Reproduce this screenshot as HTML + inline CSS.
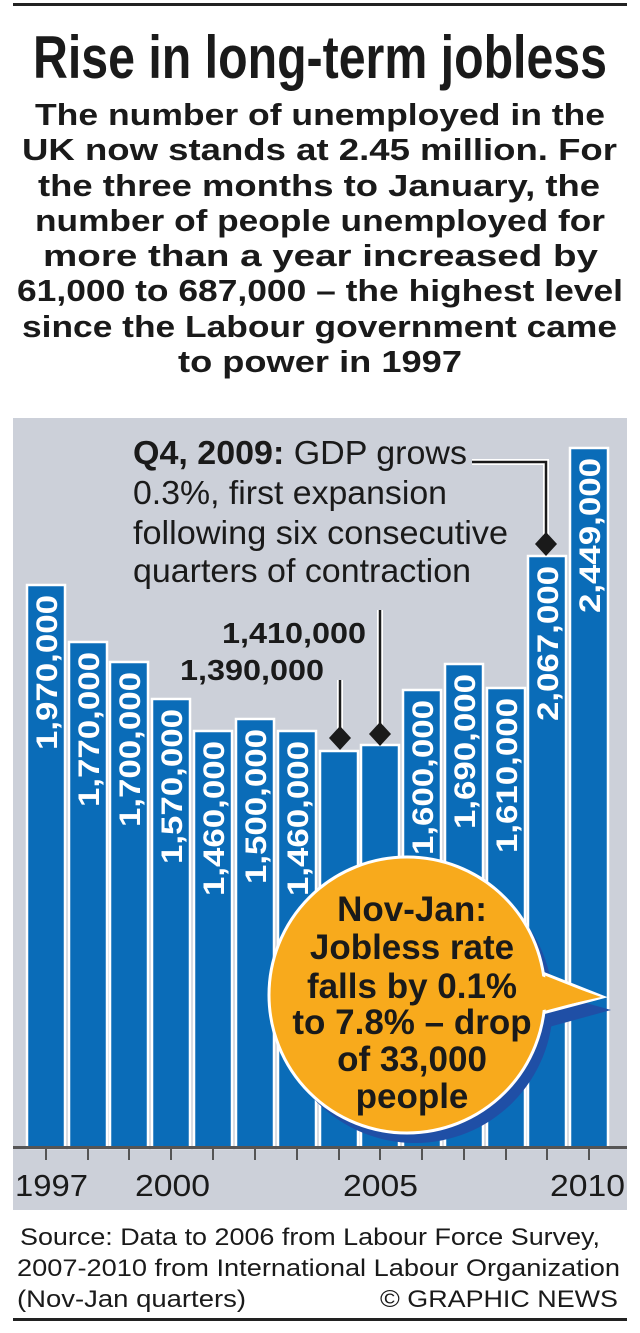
<!DOCTYPE html>
<html><head><style>
body{margin:0;background:#fff;width:640px;height:1333px;overflow:hidden}
svg{display:block}
</style></head><body>
<svg width="640" height="1333" xmlns="http://www.w3.org/2000/svg" font-family="Liberation Sans, sans-serif">
<rect x="13" y="3" width="614" height="3" fill="#222"/>
<text x="33" y="78" font-size="60" font-weight="bold" fill="#1a1a1a" textLength="574" lengthAdjust="spacingAndGlyphs">Rise in long-term jobless</text>
<g font-size="31" font-weight="bold" fill="#1a1a1a">
<text x="35" y="125" textLength="570" lengthAdjust="spacingAndGlyphs">The number of unemployed in the</text>
<text x="22" y="160" textLength="595" lengthAdjust="spacingAndGlyphs">UK now stands at 2.45 million. For</text>
<text x="38" y="196" textLength="562" lengthAdjust="spacingAndGlyphs">the three months to January, the</text>
<text x="35" y="231" textLength="570" lengthAdjust="spacingAndGlyphs">number of people unemployed for</text>
<text x="43" y="266" textLength="555" lengthAdjust="spacingAndGlyphs">more than a year increased by</text>
<text x="17" y="301" textLength="606" lengthAdjust="spacingAndGlyphs">61,000 to 687,000 – the highest level</text>
<text x="22" y="337" textLength="595" lengthAdjust="spacingAndGlyphs">since the Labour government came</text>
<text x="178" y="372" textLength="284" lengthAdjust="spacingAndGlyphs">to power in 1997</text>
</g>
<rect x="13" y="418" width="614" height="792" fill="#ccd0d9"/>
<g fill="#0a6cb8" stroke="#fff" stroke-width="2.5">
<rect x="27" y="585" width="38" height="563"/>
<rect x="69" y="642" width="38" height="506"/>
<rect x="110" y="662" width="38" height="486"/>
<rect x="152" y="699" width="38" height="449"/>
<rect x="194" y="731" width="38" height="417"/>
<rect x="236" y="719" width="38" height="429"/>
<rect x="278" y="731" width="38" height="417"/>
<rect x="320" y="751" width="38" height="397"/>
<rect x="361" y="745" width="38" height="403"/>
<rect x="403" y="690" width="38" height="458"/>
<rect x="445" y="664" width="38" height="484"/>
<rect x="487" y="688" width="38" height="460"/>
<rect x="528" y="556" width="38" height="592"/>
<rect x="570" y="448" width="38" height="700"/>
</g>
<g fill="#fff" font-size="30" font-weight="bold">
<text transform="translate(57,750) rotate(-90)" textLength="155" lengthAdjust="spacingAndGlyphs">1,970,000</text>
<text transform="translate(99,807) rotate(-90)" textLength="155" lengthAdjust="spacingAndGlyphs">1,770,000</text>
<text transform="translate(140,827) rotate(-90)" textLength="155" lengthAdjust="spacingAndGlyphs">1,700,000</text>
<text transform="translate(182,864) rotate(-90)" textLength="155" lengthAdjust="spacingAndGlyphs">1,570,000</text>
<text transform="translate(224,896) rotate(-90)" textLength="155" lengthAdjust="spacingAndGlyphs">1,460,000</text>
<text transform="translate(266,884) rotate(-90)" textLength="155" lengthAdjust="spacingAndGlyphs">1,500,000</text>
<text transform="translate(308,896) rotate(-90)" textLength="155" lengthAdjust="spacingAndGlyphs">1,460,000</text>
<text transform="translate(433,855) rotate(-90)" textLength="155" lengthAdjust="spacingAndGlyphs">1,600,000</text>
<text transform="translate(475,829) rotate(-90)" textLength="155" lengthAdjust="spacingAndGlyphs">1,690,000</text>
<text transform="translate(517,853) rotate(-90)" textLength="155" lengthAdjust="spacingAndGlyphs">1,610,000</text>
<text transform="translate(558,721) rotate(-90)" textLength="155" lengthAdjust="spacingAndGlyphs">2,067,000</text>
<text transform="translate(600,613) rotate(-90)" textLength="155" lengthAdjust="spacingAndGlyphs">2,449,000</text>
</g>
<!-- bubble -->
<g>
<circle cx="415" cy="1005" r="138" fill="#1f4fa6"/>
<polygon points="540,990 611,1010 538,1030" fill="#1f4fa6"/>
<polygon points="535,970 603,997 535,1015" fill="#f8aa1c" stroke="#fff" stroke-width="3"/>
<circle cx="407" cy="995" r="138" fill="#f8aa1c" stroke="#fff" stroke-width="3"/>
<polygon points="530,972 601,997 530,1013" fill="#f8aa1c"/>
<g font-size="35" font-weight="bold" fill="#1a1a1a" text-anchor="middle">
<text x="412" y="921">Nov-Jan:</text>
<text x="412" y="959">Jobless rate</text>
<text x="412" y="998">falls by 0.1%</text>
<text x="412" y="1034">to 7.8% – drop</text>
<text x="412" y="1071">of 33,000</text>
<text x="412" y="1108">people</text>
</g>
</g>
<!-- annotations -->
<g font-size="33" fill="#1a1a1a">
<text x="133" y="464" textLength="334" lengthAdjust="spacingAndGlyphs"><tspan font-weight="bold">Q4, 2009:</tspan> GDP grows</text>
<text x="133" y="504" textLength="314" lengthAdjust="spacingAndGlyphs">0.3%, first expansion</text>
<text x="133" y="544" textLength="375" lengthAdjust="spacingAndGlyphs">following six consecutive</text>
<text x="133" y="582" textLength="338" lengthAdjust="spacingAndGlyphs">quarters of contraction</text>
</g>
<g font-size="29" font-weight="bold" fill="#1a1a1a">
<text x="222" y="643" textLength="144" lengthAdjust="spacingAndGlyphs">1,410,000</text>
<text x="180" y="680" textLength="144" lengthAdjust="spacingAndGlyphs">1,390,000</text>
</g>
<g stroke="#fff" stroke-width="6" fill="none">
<polyline points="472,462 546,462 546,540"/>
<line x1="380" y1="610" x2="380" y2="728"/>
<line x1="340" y1="680" x2="340" y2="730"/>
</g>
<g stroke="#1a1a1a" stroke-width="2.5" fill="none">
<polyline points="472,462 546,462 546,540"/>
<line x1="380" y1="610" x2="380" y2="728"/>
<line x1="340" y1="680" x2="340" y2="730"/>
</g>
<g fill="#1a1a1a">
<polygon points="546,532 557,544 546,556 535,544"/>
<polygon points="380,722 391,734 380,746 369,734"/>
<polygon points="340,726 351,738 340,750 329,738"/>
</g>
<!-- axis -->
<rect x="13" y="1146" width="614" height="3" fill="#555"/>
<g stroke="#555" stroke-width="2">
<line x1="46" y1="1148" x2="46" y2="1160"/><line x1="88" y1="1148" x2="88" y2="1160"/>
<line x1="129" y1="1148" x2="129" y2="1160"/><line x1="171" y1="1148" x2="171" y2="1160"/>
<line x1="213" y1="1148" x2="213" y2="1160"/><line x1="255" y1="1148" x2="255" y2="1160"/>
<line x1="297" y1="1148" x2="297" y2="1160"/><line x1="339" y1="1148" x2="339" y2="1160"/>
<line x1="380" y1="1148" x2="380" y2="1160"/><line x1="422" y1="1148" x2="422" y2="1160"/>
<line x1="464" y1="1148" x2="464" y2="1160"/><line x1="506" y1="1148" x2="506" y2="1160"/>
<line x1="547" y1="1148" x2="547" y2="1160"/><line x1="589" y1="1148" x2="589" y2="1160"/>
</g>
<g font-size="31" fill="#1a1a1a">
<text x="15" y="1196" textLength="73" lengthAdjust="spacingAndGlyphs">1997</text>
<text x="135" y="1196" textLength="75" lengthAdjust="spacingAndGlyphs">2000</text>
<text x="343" y="1196" textLength="75" lengthAdjust="spacingAndGlyphs">2005</text>
<text x="550" y="1196" textLength="75" lengthAdjust="spacingAndGlyphs">2010</text>
</g>
<g font-size="24" fill="#1a1a1a">
<text x="20" y="1245" textLength="580" lengthAdjust="spacingAndGlyphs">Source: Data to 2006 from Labour Force Survey,</text>
<text x="17" y="1276" textLength="603" lengthAdjust="spacingAndGlyphs">2007-2010 from International Labour Organization</text>
<text x="17" y="1307" textLength="229" lengthAdjust="spacingAndGlyphs">(Nov-Jan quarters)</text>
<text x="380" y="1307" textLength="238" lengthAdjust="spacingAndGlyphs">© GRAPHIC NEWS</text>
</g>
<rect x="13" y="1318" width="614" height="3" fill="#222"/>
</svg>
</body></html>
